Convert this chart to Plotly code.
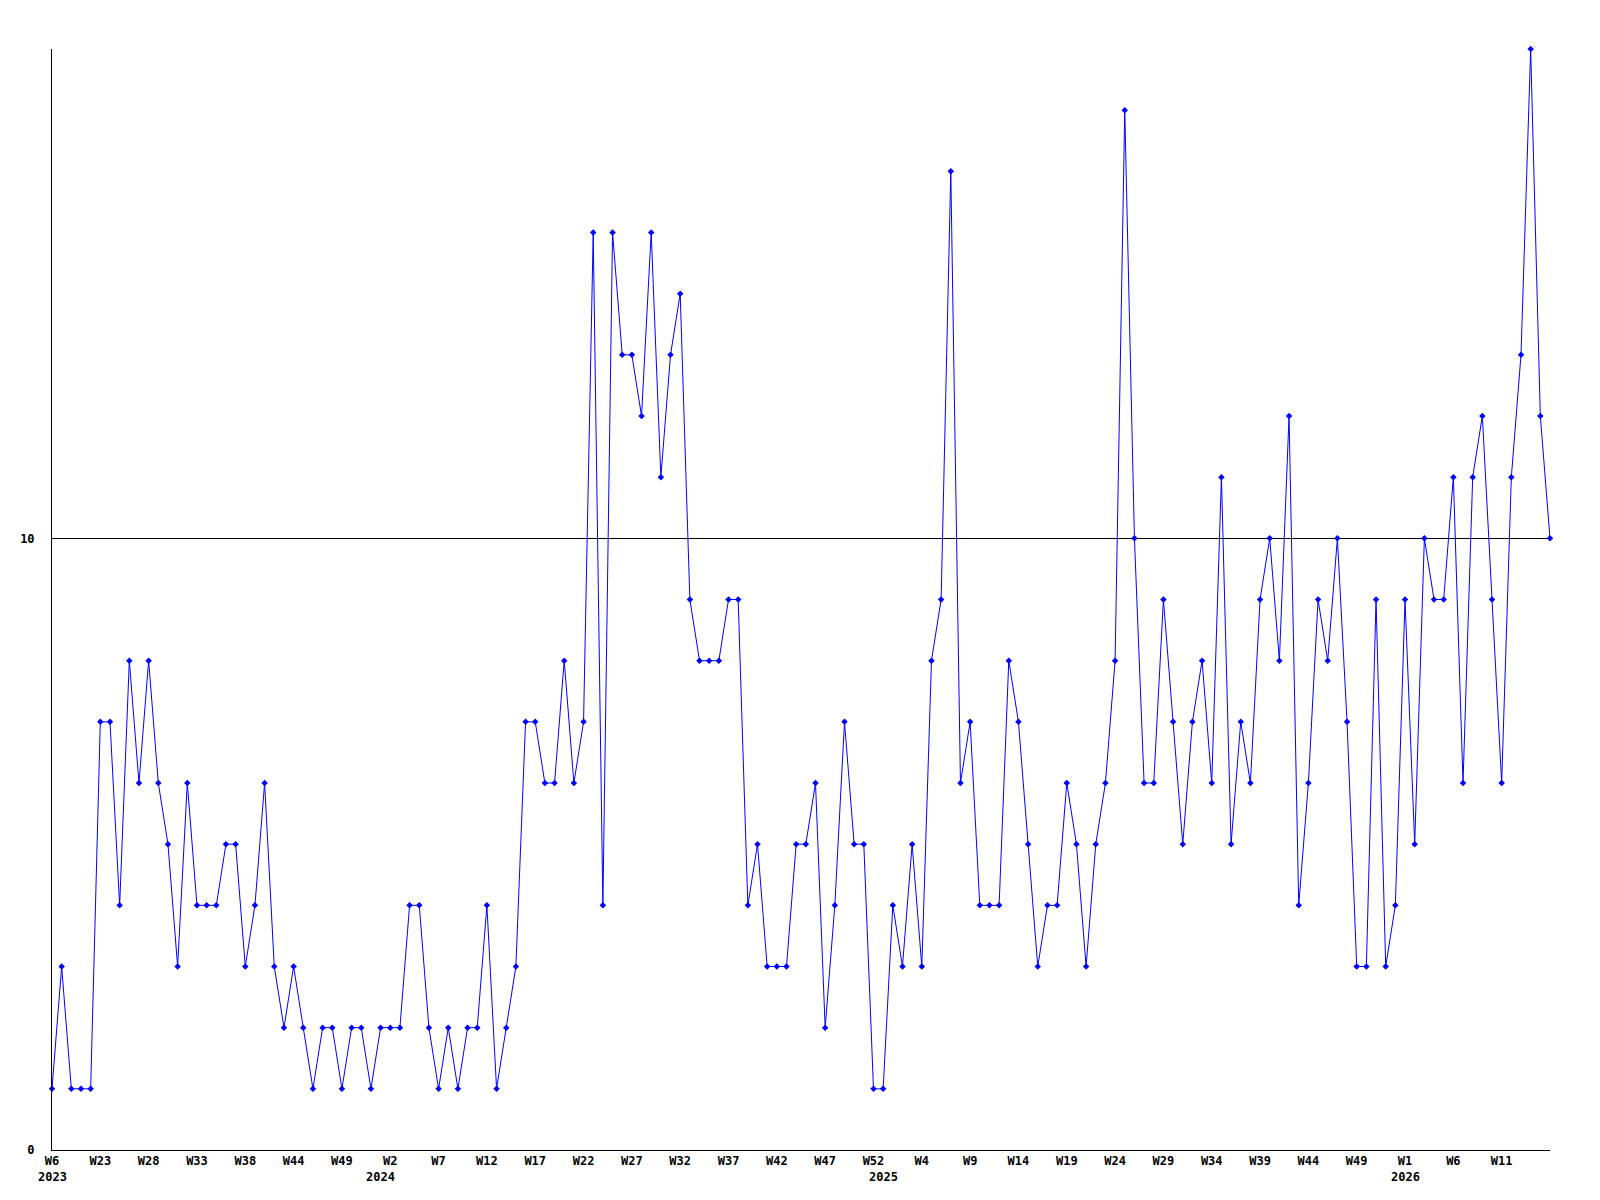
import plotly.graph_objects as go

# weekly counts, one per plotted week (2023 W6 ... 2026)
values = [
    1, 3, 1, 1, 1, 7, 7, 4, 8, 6,
    8, 6, 5, 3, 6, 4, 4, 4, 5, 5,
    3, 4, 6, 3, 2, 3, 2, 1, 2, 2,
    1, 2, 2, 1, 2, 2, 2, 4, 4, 2,
    1, 2, 1, 2, 2, 4, 1, 2, 3, 7,
    7, 6, 6, 8, 6, 7, 15, 4, 15, 13,
    13, 12, 15, 11, 13, 14, 9, 8, 8, 8,
    9, 9, 4, 5, 3, 3, 3, 5, 5, 6,
    2, 4, 7, 5, 5, 1, 1, 4, 3, 5,
    3, 8, 9, 16, 6, 7, 4, 4, 4, 8,
    7, 5, 3, 4, 4, 6, 5, 3, 5, 6,
    8, 17, 10, 6, 6, 9, 7, 5, 7, 8,
    6, 11, 5, 7, 6, 9, 10, 8, 12, 4,
    6, 9, 8, 10, 7, 3, 3, 9, 3, 4,
    9, 5, 10, 9, 9, 11, 6, 11, 12, 9,
    6, 11, 13, 18, 12, 10,
]

# x tick labels, one every 5 points
week_labels = ["W6", "W23", "W28", "W33", "W38", "W44", "W49", "W2", "W7", "W12",
               "W17", "W22", "W27", "W32", "W37", "W42", "W47", "W52", "W4", "W9",
               "W14", "W19", "W24", "W29", "W34", "W39", "W44", "W49", "W1", "W6", "W11"]
label_step = 5

# year labels and the point index where each year starts
years = ["2023", "2024", "2025", "2026"]
year_start_index = [0, 34, 86, 140]

y_ticks = [0, 10]
y_max = 18

x = list(range(len(values)))
tickvals = [i * label_step for i in range(len(week_labels))]

font = dict(family="DejaVu Sans Mono, monospace", size=12, color="black", weight="bold")

fig = go.Figure()
fig.add_trace(go.Scatter(
    x=x, y=values, mode="lines+markers",
    line=dict(color="#0000ff", width=1),
    marker=dict(symbol="diamond", size=5, color="#0000ff"),
    cliponaxis=False, hoverinfo="skip", showlegend=False,
))

for yr, idx in zip(years, year_start_index):
    fig.add_annotation(x=idx, xref="x", y=0, yref="paper", yshift=-27,
                       text=yr, showarrow=False, yanchor="middle",
                       xanchor="center", font=font)

fig.update_layout(
    width=1600, height=1200,
    margin=dict(l=42, r=58, t=41, b=58),
    paper_bgcolor="white", plot_bgcolor="white",
    font=font,
)
fig.update_xaxes(
    range=[0, len(values) - 1], tickvals=tickvals, ticktext=week_labels,
    tickangle=0, showgrid=False, zeroline=False,
    showline=True, linecolor="black", linewidth=1, ticks="", tickfont=font,
)
fig.update_yaxes(
    range=[0, y_max], tickvals=y_ticks, ticktext=[str(v) for v in y_ticks],
    showgrid=True, gridcolor="black", gridwidth=1, zeroline=False,
    showline=True, linecolor="black", linewidth=1, ticks="", tickfont=font,
    ticklabelstandoff=14,
)

fig.write_html("out.html")
